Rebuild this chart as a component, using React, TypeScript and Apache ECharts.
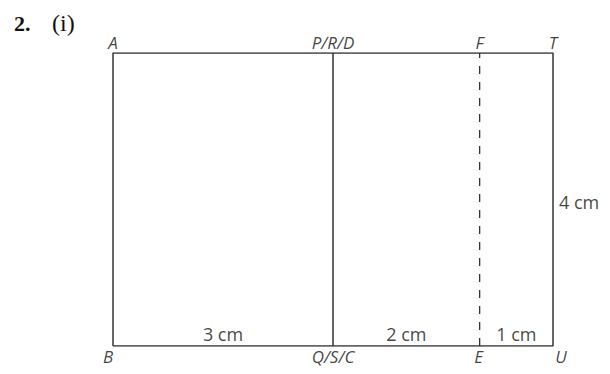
import React, { useEffect, useRef } from "react";
import * as echarts from "echarts";

// Geometry (cm)
const totalWidth = 6;
const totalHeight = 4;
const topNames = ["A", "P/R/D", "F", "T"];
const bottomNames = ["B", "Q/S/C", "E", "U"];
const vertexX = [0, 3, 5, 6];
const segmentLengths = [3, 2, 1];
const segmentLabels = ["3 cm", "2 cm", "1 cm"];
const heightLabel = "4 cm";
const solidDividerX = 3;
const dashedDividerX = 5;
const questionNumber = "2.";
const partLabel = "(i)";

export default function App() {
  const ref = useRef<HTMLDivElement>(null);
  useEffect(() => {
    if (!ref.current) return;
    const chart = echarts.init(ref.current, null, { renderer: "svg" });
    const lineColor = "#333333";
    const textColor = "#111111";
    const font = "Open Sans";

    const rect = [
      [0, 0],
      [totalWidth, 0],
      [totalWidth, totalHeight],
      [0, totalHeight],
      [0, 0],
    ];
    const segMid: number[][] = [];
    let acc = 0;
    segmentLengths.forEach((l) => {
      segMid.push([acc + l / 2, 0]);
      acc += l;
    });

    const letterLabel = {
      show: true,
      fontFamily: font,
      fontStyle: "italic",
      fontSize: 17,
      color: textColor,
    };

    chart.setOption({
      animation: false,
      grid: { left: 113, top: 53, width: 440, height: 293 },
      xAxis: { type: "value", min: 0, max: totalWidth, show: false },
      yAxis: { type: "value", min: 0, max: totalHeight, show: false },
      graphic: [
        {
          type: "text",
          left: 14,
          top: 12,
          style: {
            text: questionNumber,
            fontFamily: "Liberation Serif",
            fontWeight: "bold",
            fontSize: 22,
            fill: textColor,
          },
        },
        {
          type: "text",
          left: 52,
          top: 11,
          style: {
            text: partLabel,
            fontFamily: "Liberation Serif",
            fontSize: 24,
            fill: textColor,
          },
        },
      ],
      series: [
        {
          type: "line",
          data: rect,
          symbol: "none",
          lineStyle: { color: lineColor, width: 1.5 },
        },
        {
          type: "line",
          data: [
            [solidDividerX, 0],
            [solidDividerX, totalHeight],
          ],
          symbol: "none",
          lineStyle: { color: lineColor, width: 1.5 },
        },
        {
          type: "line",
          data: [
            [dashedDividerX, totalHeight],
            [dashedDividerX, 0],
          ],
          symbol: "none",
          lineStyle: { color: lineColor, width: 1.3, type: [8, 8], dashOffset: 3 },
        },
        {
          type: "scatter",
          symbolSize: 0,
          data: topNames.map((n, i) => ({ value: [vertexX[i], totalHeight], name: n })),
          label: { ...letterLabel, position: "top", distance: 2, formatter: "{b}" },
        },
        {
          type: "scatter",
          symbolSize: 0,
          data: bottomNames.map((n, i) => ({
            value: [vertexX[i], 0],
            name: n,
            label: i === 0 ? { offset: [-5, 0] } : i === 3 ? { offset: [8, 0] } : i === 2 ? { offset: [-1, 0] } : {},
          })),
          label: { ...letterLabel, position: "bottom", distance: 2, formatter: "{b}" },
        },
        {
          type: "scatter",
          symbolSize: 0,
          data: segmentLabels.map((n, i) => ({ value: segMid[i], name: n })),
          label: {
            show: true,
            position: "top",
            distance: 3,
            formatter: "{b}",
            fontFamily: font,
            fontSize: 18,
            color: textColor,
          },
        },
        {
          type: "scatter",
          symbolSize: 0,
          data: [{ value: [totalWidth, totalHeight / 2], name: heightLabel }],
          label: {
            show: true,
            position: "right",
            distance: 6,
            offset: [0, 2],
            formatter: "{b}",
            fontFamily: font,
            fontSize: 18,
            color: textColor,
          },
        },
      ],
    });
    return () => chart.dispose();
  }, []);
  return (
    <div
      ref={ref}
      style={{ position: "absolute", left: 0, top: 0, width: 610, height: 374, background: "#fff" }}
    />
  );
}
